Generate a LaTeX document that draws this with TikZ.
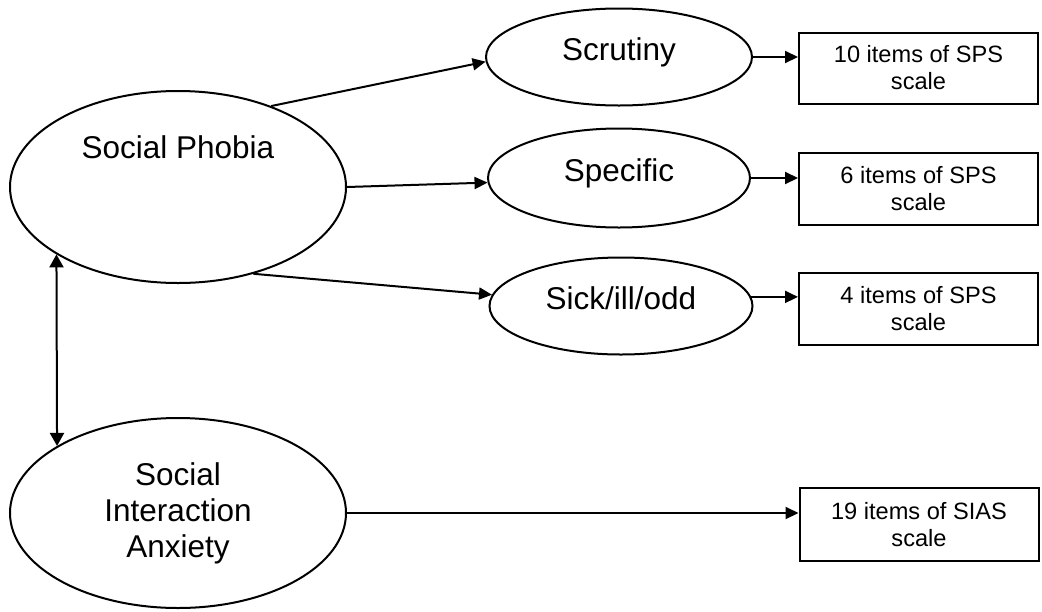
\documentclass[tikz,border=0pt]{standalone}
\usepackage{fontspec}
\setmainfont{Liberation Sans}
\usetikzlibrary{shapes.geometric,arrows.meta}
\begin{document}
\begin{tikzpicture}[x=1pt,y=-1pt,
  latent/.style={draw, ellipse, line width=2pt, inner sep=0pt,
    font=\fontsize{31.5}{36}\selectfont},
  facet/.style={latent, text height=22pt, text depth=16pt},
  scalebox/.style={draw, rectangle, line width=2pt, inner sep=0pt,
    minimum width=239pt, minimum height=71pt, align=center,
    font=\fontsize{23.6}{27}\selectfont},
  link/.style={line width=2pt, -{Triangle[length=13pt,width=12pt]}},
  corr/.style={line width=2pt,
    {Triangle[length=13pt,width=14pt]}-{Triangle[length=13pt,width=14pt]}}
]
\useasboundingbox (0,0) rectangle (1042,611);

% latent factors
\node[latent, minimum width=336pt, minimum height=192pt,
      text height=22pt, text depth=80pt] (sp) at (178,187) {Social Phobia};
\node[latent, align=center, minimum width=336pt, minimum height=190pt]
      (sia) at (178,513) {Social\\Interaction\\Anxiety};

% social phobia sub-factors
\node[facet, minimum width=266pt, minimum height=97pt] (scr) at (619,57) {Scrutiny};
\node[facet, minimum width=262pt, minimum height=99pt] (spec) at (619,178) {Specific};
\node[facet, minimum width=263pt, minimum height=97pt] (sick) at (621,306) {Sick/ill/odd};

% item sets
\node[scalebox] (b1) at (918.5,68) {10 items of SPS\\scale};
\node[scalebox, minimum height=72pt] (b2) at (918.5,189) {6 items of SPS\\scale};
\node[scalebox, minimum height=72pt] (b3) at (918.5,309) {4 items of SPS\\scale};
\node[scalebox, minimum height=73pt] (b4) at (919,524.5) {19 items of SIAS\\scale};

% paths
\draw[link] (sp.41) -- (scr.182);
\draw[link] (sp.east) -- (spec.182);
\draw[link] (sp.-49) -- (sick.175);
\draw[link] (scr.east) -- (scr.east -| b1.west);
\draw[link] (spec.east) -- (spec.east -| b2.west);
\draw[link] (sick.4) -- (sick.4 -| b3.west);
\draw[link] (sia.east) -- (sia.east -| b4.west);
\draw[corr] (sp.209) -- (sia.151);
\end{tikzpicture}
\end{document}
